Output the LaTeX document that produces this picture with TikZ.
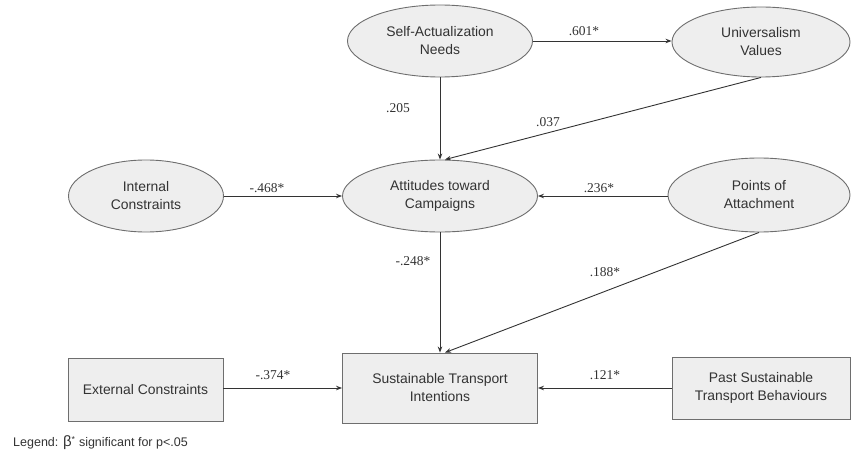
\documentclass[tikz,border=0pt]{standalone}
\usepackage{fontspec}
\setmainfont{Liberation Sans}
\newfontfamily\lblfont{Liberation Serif}
\usetikzlibrary{shapes.geometric,arrows.meta}
\definecolor{nodefill}{HTML}{EEEEEE}
\definecolor{nodeline}{HTML}{6E6E6E}
\definecolor{txt}{HTML}{333333}
\definecolor{edge}{HTML}{333333}
\tikzset{
  ell/.style={ellipse, draw=nodeline, fill=nodefill, line width=0.9pt, inner sep=0pt,
    align=center, text=txt, font=\fontsize{13.9}{18}\selectfont},
  boxn/.style={rectangle, draw=nodeline, fill=nodefill, line width=0.9pt, inner sep=0pt,
    align=center, text=txt, font=\fontsize{13.9}{18}\selectfont},
  conn/.style={draw=edge, line width=0.9pt, -{Stealth[length=6pt,width=4.5pt]}},
  lbl/.style={font=\lblfont\fontsize{13.5}{16}\selectfont, text=txt, inner sep=0pt},
}
\begin{document}
\begin{tikzpicture}[x=1pt,y=-1pt]
\useasboundingbox (0,0) rectangle (851,457);
% ellipses
\node[ell, minimum width=185pt, minimum height=72pt] (sa) at (440,41) {Self-Actualization\\Needs};
\node[ell, minimum width=178pt, minimum height=70pt] (uv) at (761,42) {Universalism\\Values};
\node[ell, minimum width=155pt, minimum height=72pt] (ic) at (146,196) {Internal\\Constraints};
\node[ell, minimum width=195pt, minimum height=72pt] (at) at (440,196) {Attitudes toward\\Campaigns};
\node[ell, minimum width=182pt, minimum height=74pt] (pa) at (759,195) {Points of\\Attachment};
% boxes
\node[boxn, minimum width=155pt, minimum height=63pt] (ec) at (145.5,389.5) {External Constraints};
\node[boxn, minimum width=195pt, minimum height=70pt] (st) at (440,388) {Sustainable Transport\\Intentions};
\node[boxn, minimum width=178pt, minimum height=62pt] (ps) at (761,388) {Past Sustainable\\Transport Behaviours};
% connectors
\draw[conn] (sa.east) -- (sa.east -| uv.west);
\draw[conn] (sa.south) -- (at.north);
\draw[conn] (uv.south) -- ([xshift=5pt]at.north);
\draw[conn] (ic.east) -- (at.west);
\draw[conn] (at.east -| pa.west) -- (at.east);
\draw[conn] (at.south) -- (st.north);
\draw[conn] (pa.south) -- ([xshift=5pt]st.north);
\draw[conn] (st.west -| ec.east) -- (st.west);
\draw[conn] (ps.west) -- (ps.west -| st.east);
% labels
\node[lbl] (l1) at (584,31) {.601*};
\node[lbl] (l2) at (398,108) {.205};
\node[lbl] (l3) at (548,122) {.037};
\node[lbl] (l4) at (267,188) {-.468*};
\node[lbl] (l5) at (599,188) {.236*};
\node[lbl] (l6) at (413,261) {-.248*};
\node[lbl] (l7) at (605,272) {.188*};
\node[lbl] (l8) at (273,375) {-.374*};
\node[lbl] (l9) at (605,375) {.121*};
% legend
\node[anchor=west, inner sep=0pt, text=txt, font=\fontsize{12.5}{15}\selectfont] (lg) at (13,443) {Legend: {\fontsize{15}{15}\selectfont β}\textsuperscript{*} significant for p<.05};
\end{tikzpicture}
\end{document}
